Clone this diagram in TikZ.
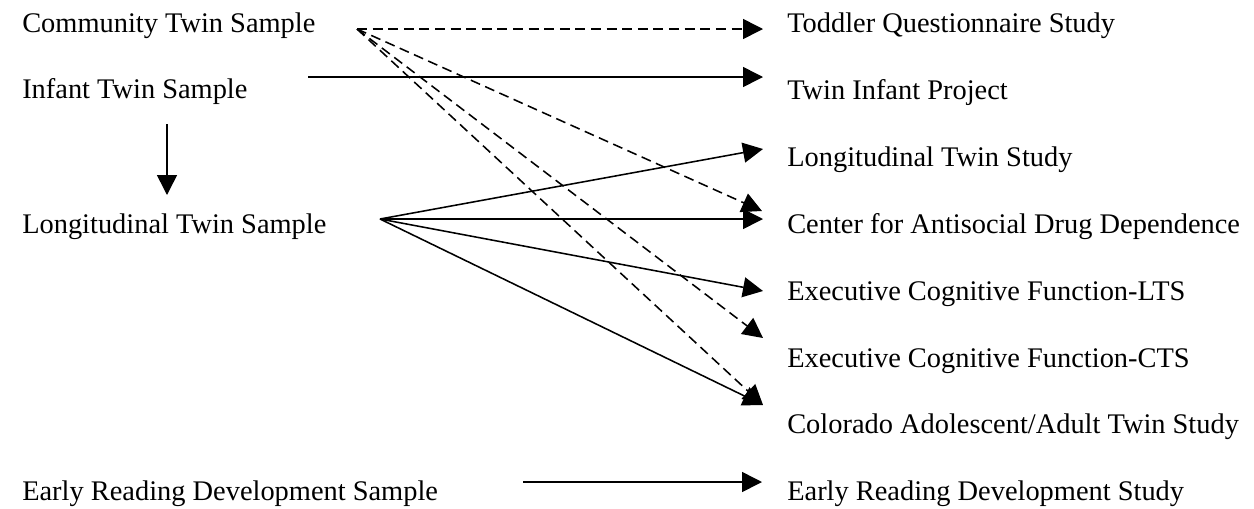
\documentclass[tikz,border=0pt]{standalone}
\usepackage{fontspec}
\setmainfont{Liberation Serif}
\usepackage{tikz}
\usetikzlibrary{arrows.meta, positioning}

\begin{document}
\begin{tikzpicture}[x=0.025cm, y=-0.025cm,
    lbl/.style={anchor=base west, inner sep=0pt, font=\fontsize{20.2}{24}\selectfont},
    link/.style={line width=1.1pt, -{Triangle[length=0.5cm, width=0.5cm]}},
    maybe/.style={link, dash pattern=on 0.25cm off 0.14cm}]
    \useasboundingbox (0,0) rectangle (1254,508);

    % samples
    \node[lbl] (cts) at (22,32) {Community Twin Sample};
    \node[lbl] (its) at (22,98) {Infant Twin Sample};
    \node[lbl] (lts) at (22,233) {Longitudinal Twin Sample};
    \node[lbl] (ers) at (22,500) {Early Reading Development Sample};

    % studies
    \node[lbl] (tqs) at (787,32) {Toddler Questionnaire Study};
    \node[lbl] (tip) at (787,99) {Twin Infant Project};
    \node[lbl] (ltstudy) at (787,166) {Longitudinal Twin Study};
    \node[lbl] (cadd) at (787,233) {Center for Antisocial Drug Dependence};
    \node[lbl] (ecfl) at (787,300) {Executive Cognitive Function-LTS};
    \node[lbl] (ecfc) at (787,367) {Executive Cognitive Function-CTS};
    \node[lbl] (cat) at (787,433) {Colorado Adolescent/Adult Twin Study};
    \node[lbl] (erds) at (787,500) {Early Reading Development Study};

    % arrow ends
    \coordinate (cts-o) at (357,29);
    \coordinate (its-o) at (308,77);
    \coordinate (its-d) at (167,124);
    \coordinate (lts-u) at (167,195);
    \coordinate (lts-o) at (380,219);
    \coordinate (ers-o) at (523,482);
    \coordinate (tqs-i) at (763,29);
    \coordinate (tip-i) at (763,77);
    \coordinate (ltstudy-i) at (763,149);
    \coordinate (cadd-i) at (763,219);
    \coordinate (cadd-j) at (762,211);
    \coordinate (ecfl-i) at (763,291);
    \coordinate (ecfc-i) at (763,338);
    \coordinate (cat-i) at (763,405);
    \coordinate (erds-i) at (762,482);

    \path [maybe] (cts-o) edge (tqs-i);
    \path [maybe] (cts-o) edge (cadd-j);
    \path [maybe] (cts-o) edge (ecfc-i);
    \path [maybe] (cts-o) edge (cat-i);

    \path [link] (its-o) edge (tip-i);
    \path [link] (its-d) edge (lts-u);

    \path [link] (lts-o) edge (ltstudy-i);
    \path [link] (lts-o) edge (cadd-i);
    \path [link] (lts-o) edge (ecfl-i);
    \path [link] (lts-o) edge (cat-i);

    \path [link] (ers-o) edge (erds-i);
\end{tikzpicture}
\end{document}
